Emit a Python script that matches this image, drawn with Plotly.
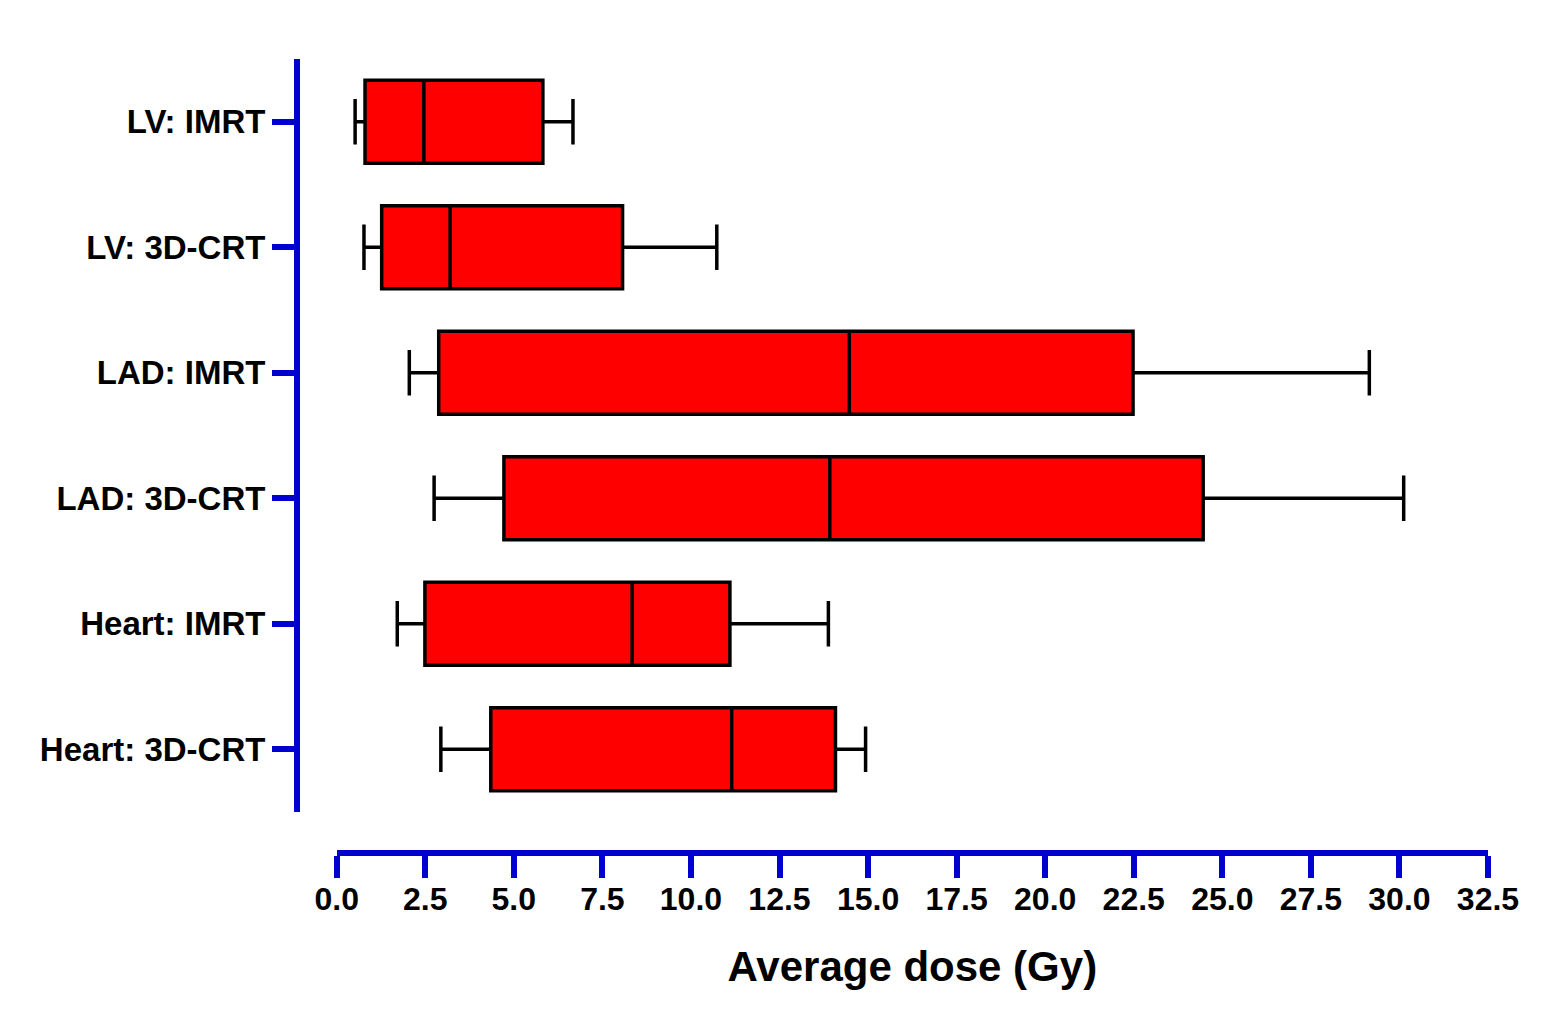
import plotly.graph_objects as go

categories = ["LV: IMRT", "LV: 3D-CRT", "LAD: IMRT", "LAD: 3D-CRT", "Heart: IMRT", "Heart: 3D-CRT"]
mins = [0.52, 0.77, 2.05, 2.75, 1.71, 2.94]
q1s = [0.80, 1.27, 2.88, 4.72, 2.49, 4.35]
medians = [2.46, 3.20, 14.47, 13.92, 8.34, 11.15]
q3s = [5.82, 8.07, 22.48, 24.46, 11.10, 14.08]
maxs = [6.67, 10.73, 29.15, 30.12, 13.88, 14.93]
x_ticks = [0.0, 2.5, 5.0, 7.5, 10.0, 12.5, 15.0, 17.5, 20.0, 22.5, 25.0, 27.5, 30.0, 32.5]

BLUE = "#0000D0"
FONT = "Liberation Sans, Arial, sans-serif"
W, H = 1555, 1011
left, right_px = 297, 1488.3
top, bottom_px = 59, 853
plot_w = right_px - left
plot_h = bottom_px - top

fig = go.Figure()
fig.add_trace(go.Box(
    y=categories,
    q1=q1s, median=medians, q3=q3s,
    lowerfence=mins, upperfence=maxs,
    orientation="h",
    fillcolor="#FF0000",
    line=dict(color="black", width=3.5),
    whiskerwidth=0.55,
    width=0.66,
    boxpoints=False,
    showlegend=False,
    hoverinfo="skip",
))

fig.update_layout(
    width=W, height=H,
    margin=dict(l=left, r=W - right_px, t=top, b=H - bottom_px, pad=0),
    paper_bgcolor="white",
    plot_bgcolor="white",
    font=dict(family=FONT, color="black", weight=700),
    xaxis=dict(
        domain=[(336.7 - left) / plot_w, 1],
        range=[0, 32.5],
        tickvals=x_ticks,
        ticktext=[f"{v:.1f}" for v in x_ticks],
        showgrid=False, zeroline=False,
        showline=True, linecolor=BLUE, linewidth=6,
        ticks="outside", ticklen=22, tickwidth=6, tickcolor=BLUE,
        ticklabelstandoff=-6,
        tickfont=dict(size=32, family=FONT, weight=700),
        anchor="free", position=0,
        title=dict(text="Average dose (Gy)", font=dict(size=42, family=FONT, weight=700), standoff=34),
    ),
    yaxis=dict(
        domain=[(bottom_px - 812) / plot_h, 1],
        type="category",
        categoryorder="array", categoryarray=categories,
        range=[5.5, -0.5],
        showgrid=False, zeroline=False,
        showline=True, linecolor=BLUE, linewidth=6,
        ticks="outside", ticklen=22, tickwidth=6, tickcolor=BLUE,
        tickfont=dict(size=33, family=FONT, weight=700),
        anchor="free", position=0,
    ),
)

fig.write_html("out.html")
